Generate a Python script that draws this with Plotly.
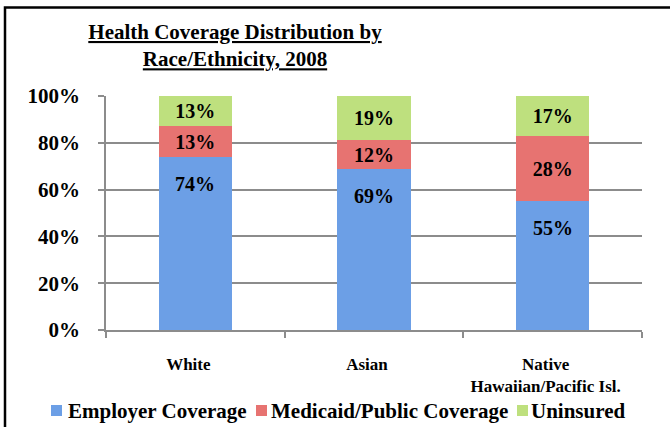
import plotly.graph_objects as go

categories = ["White", "Asian", "Native<br>Hawaiian/Pacific Isl."]
employer = [74, 69, 55]
medicaid = [13, 12, 28]
uninsured = [13, 19, 17]
series_names = ["Employer Coverage", "Medicaid/Public Coverage", "Uninsured"]
tick_vals = [0, 20, 40, 60, 80, 100]

FONT = "Liberation Serif"
colors = ["#6C9FE6", "#E77371", "#BEE07E"]

L, R, T, B = 106, 28, 96, 97
W, H = 670, 427
pw, ph = W - L - R, H - T - B


def px(xp):
    return (xp - L) / pw


def py(yp):
    return (H - B - yp) / ph


fig = go.Figure()
for name, vals, col, show_text in [
    (series_names[0], employer, colors[0], False),
    (series_names[1], medicaid, colors[1], True),
    (series_names[2], uninsured, colors[2], True),
]:
    fig.add_trace(go.Bar(
        name=name, x=categories, y=vals,
        marker=dict(color=col, line=dict(width=0)),
        text=[f"<b>{v}%</b>" for v in vals] if show_text else None,
        textposition="inside" if show_text else "none",
        insidetextanchor="middle",
        textangle=0,
        constraintext="none",
        textfont=dict(family=FONT, size=20, color="black"),
        hoverinfo="skip",
        showlegend=False,
    ))

# Employer labels sit near the top of the employer segment (inside end)
for c, v in zip(categories, employer):
    fig.add_annotation(x=c, y=v, xref="x", yref="y", text=f"<b>{v}%</b>",
                       showarrow=False, yanchor="top", yshift=-14,
                       font=dict(family=FONT, size=20, color="black"))

# Legend (drawn manually to match the compact spacing of the original)
legend_x = [(51, 66), (256, 269), (517, 529)]
for (sx, tx), name, col in zip(legend_x, series_names, colors):
    fig.add_shape(type="rect", xref="paper", yref="paper",
                  x0=px(sx), x1=px(sx + 11), y0=py(416), y1=py(405),
                  line=dict(width=0), fillcolor=col)
    fig.add_annotation(x=px(tx), y=py(411), xref="paper", yref="paper",
                       text=f"<b>{name}</b>", showarrow=False,
                       xanchor="left", yanchor="middle",
                       font=dict(family=FONT, size=21, color="black"))

# outer frame
fig.add_shape(type="rect", xref="paper", yref="paper",
              x0=px(5), x1=px(674), y0=py(432), y1=py(7.5),
              line=dict(color="black", width=2.5), fillcolor="rgba(0,0,0,0)")

fig.update_layout(
    width=W, height=H,
    margin=dict(l=L, r=R, t=T, b=B, autoexpand=False),
    paper_bgcolor="white", plot_bgcolor="white",
    barmode="stack", bargap=0.59,
    title=dict(text="<b><u>Health Coverage Distribution by</u></b><br><b><u>Race/Ethnicity, 2008</u></b>",
               x=235 / W, xanchor="center", xref="container",
               y=1 - 39 / H, yanchor="top", yref="container",
               font=dict(family=FONT, size=21, color="black")),
    showlegend=False,
)
fig.update_yaxes(range=[0, 100], tickvals=tick_vals,
                 ticktext=[f"<b>{v}%</b>" for v in tick_vals],
                 tickfont=dict(family=FONT, size=21, color="black"),
                 showgrid=True, gridcolor="#8c8c8c", gridwidth=1.5,
                 showline=True, linecolor="#8c8c8c", linewidth=1.5,
                 ticks="outside", ticklen=6, tickcolor="#8c8c8c", tickwidth=1.5,
                 ticklabelstandoff=14, zeroline=False, automargin=False)
fig.update_xaxes(tickfont=dict(family=FONT, size=17, color="black"),
                 showline=True, linecolor="#8c8c8c", linewidth=1.5,
                 ticks="outside", tickson="boundaries", ticklen=6,
                 tickcolor="#8c8c8c", tickwidth=1.5,
                 ticklabelstandoff=18, ticklabelshift=-7, automargin=False,
                 tickvals=categories,
                 ticktext=[f"<b>{c}</b>" for c in categories])

fig.write_html("out.html")
